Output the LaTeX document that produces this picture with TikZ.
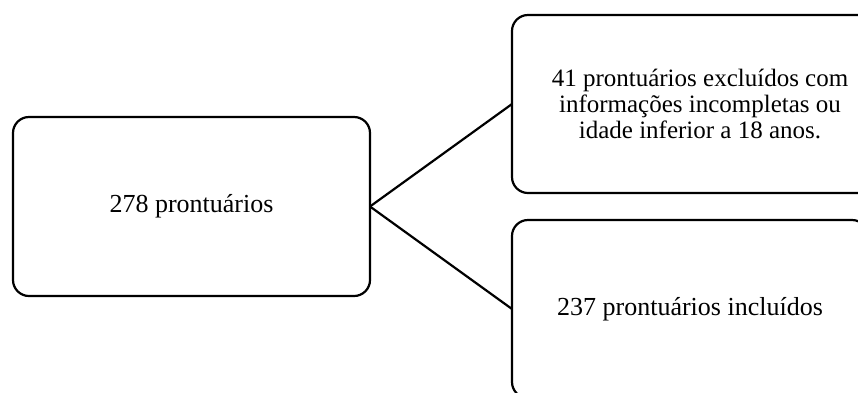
\documentclass[tikz,border=0pt]{standalone}
\usepackage{fontspec}
\setmainfont{Liberation Serif}
\begin{document}
\begin{tikzpicture}[x=1pt,y=-1pt,
  box/.style={draw=black, line width=2.2pt, rounded corners=16pt, align=center,
    font=\fontsize{26}{26}\selectfont, inner sep=0pt, outer sep=0pt},
  link/.style={draw=black, line width=2.2pt}]
\useasboundingbox (0,0) rectangle (858,392);
\clip (0,0) rectangle (858,392);
\node[box, minimum width=357pt, minimum height=179pt] (src) at (191.5,206.5) {278 prontuários};
\node[box, minimum width=376pt, minimum height=178pt, font=\fontsize{25}{26}\selectfont] (excl) at (700,104)
  {41 prontuários excluídos com\\informações incompletas ou\\idade inferior a 18 anos.};
\node[box, minimum width=356pt, minimum height=178pt] (incl) at (690,309) {237 prontuários incluídos};
\draw[link] (src.east) -- (excl.west);
\draw[link] (src.east) -- (incl.west);
\end{tikzpicture}
\end{document}
